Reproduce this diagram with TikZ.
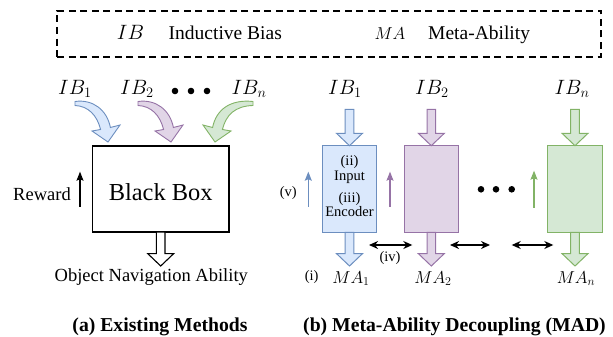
\documentclass[tikz,border=0pt]{standalone}
\usepackage{fontspec}
\setmainfont{Liberation Serif}
\usetikzlibrary{arrows.meta}
\definecolor{bfill}{HTML}{DAE8FC}
\definecolor{bdraw}{HTML}{6C8EBF}
\definecolor{pfill}{HTML}{E1D5E7}
\definecolor{pdraw}{HTML}{9673A6}
\definecolor{gfill}{HTML}{D5E8D4}
\definecolor{gdraw}{HTML}{82B366}
\begin{document}
\begin{tikzpicture}[x=1pt,y=-1pt,
  txt/.style={inner sep=0pt,font=\fontsize{18.5}{22}\selectfont},
  legtxt/.style={inner sep=0pt,anchor=base west,font=\fontsize{19.5}{23}\selectfont},
  small/.style={inner sep=0pt,font=\fontsize{14.5}{17}\selectfont},
  ibl/.style={inner sep=0pt,anchor=base,font=\fontsize{21}{25}\selectfont},
  mal/.style={inner sep=0pt,anchor=base,font=\fontsize{17.5}{21}\selectfont},
  captxt/.style={inner sep=0pt,anchor=base,font=\fontsize{19.7}{24}\selectfont\bfseries},
  module/.style={draw,line width=1.1pt,minimum width=54.4pt,minimum height=86.6pt,inner sep=0pt,outer sep=0pt},
  upar/.style={line width=1.1pt,-{Stealth[length=9pt,width=7pt,inset=1.5pt]}},
  dblar/.style={line width=1.4pt,black,{Stealth[length=9pt,width=8pt]}-{Stealth[length=9pt,width=8pt]}},
  dotn/.style={circle,fill=black,inner sep=0pt,minimum size=6.6pt},
  curv/.style={line width=0.9pt},
  pics/hdown/.style={code={\path[pic actions] (-4.3,-#1) -- (-4.3,-12.4) -- (-13,-12.4) -- (0,0) -- (13,-12.4) -- (4.3,-12.4) -- (4.3,-#1) -- cycle;}},
]
\useasboundingbox (0,0) rectangle (613,337);

% legend
\node[draw,dash pattern=on 7pt off 4.5pt,line width=1.6pt,minimum width=544pt,minimum height=46pt,inner sep=0pt,outer sep=0pt] (legend) at (329,34) {};
\node[ibl] (legib) at (130.5,39.3) {$IB$};
\node[legtxt] (legibt) at (168.5,39.5) {Inductive Bias};
\node[mal] (legma) at (390,39.5) {$MA$};
\node[legtxt] (legmat) at (428,39.5) {Meta-Ability};

% ---------- (a) existing methods
\node[ibl] (lib1) at (75,94.5) {$IB_1$};
\node[ibl] (lib2) at (137,94.5) {$IB_2$};
\node[dotn] (ld1) at (175,91) {};
\node[dotn] (ld2) at (191,91) {};
\node[dotn] (ld3) at (207,91) {};
\node[ibl] (libn) at (249,94.5) {$IB_n$};

\node[draw,line width=1.3pt,minimum width=136.7pt,minimum height=86pt,inner sep=0pt,outer sep=0pt,
      font=\fontsize{24.4}{28}\selectfont,text height=22pt,text depth=0pt] (bb) at (160.7,189) {Black Box};

% curved arrows
\filldraw[curv,fill=bfill,draw=bdraw] (75,101.5) .. controls (93,99) and (107,110) .. (110.4,127.5)
  -- (120,125) -- (108,142) -- (92,131) -- (100.6,129.5) .. controls (97,115) and (88,106) .. (75,105.5) -- cycle;
\filldraw[curv,fill=pfill,draw=pdraw] (138,101.5) .. controls (156,99) and (170,110) .. (173.4,127.5)
  -- (183,125) -- (171,142) -- (155,131) -- (163.6,129.5) .. controls (160,115) and (151,106) .. (138,105.5) -- cycle;
\filldraw[curv,fill=gfill,draw=gdraw] (253,101.5) .. controls (230,99) and (216,110) .. (212.6,127.5)
  -- (203,125) -- (215,142) -- (231,131) -- (222.4,129.5) .. controls (226,115) and (235,106) .. (253,105.5) -- cycle;

\node[txt] (rew) at (42,194.3) {Reward};
\coordinate (rewa) at (80,206.7);
\coordinate (rewb) at (80,171.7);
\draw[line width=1.3pt,-{Stealth[length=9pt,width=7pt,inset=1.5pt]}] (rewa) -- (rewb);

\path ([yshift=-34pt]bb.south) pic[fill=white,draw=black,line width=1.1pt] {hdown=34};
\node[txt,anchor=base] (ona) at (151.3,281.7) {Object Navigation Ability};

\node[captxt] (capa) at (160,331) {(a) Existing Methods};

% ---------- (b) MAD
\node[ibl] (rib1) at (345,94.5) {$IB_1$};
\node[ibl] (rib2) at (432,94.5) {$IB_2$};
\node[ibl] (ribn) at (572,94.5) {$IB_n$};

\node[module,fill=bfill,draw=bdraw] (m1) at (349.5,189) {};
\node[module,fill=pfill,draw=pdraw] (m2) at (431.3,189) {};
\node[module,fill=gfill,draw=gdraw] (mn) at (575,189) {};

\node[small,anchor=base] (t1) at (349.5,165.2) {(ii)};
\node[small,anchor=base] (t2) at (349.5,180.5) {Input};
\node[small,anchor=base] (t3) at (349.5,202.3) {(iii)};
\node[small,anchor=base] (t4) at (349.5,216.8) {Encoder};

\path (m1.north) pic[fill=bfill,draw=bdraw,line width=1pt] {hdown=36.4};
\path (m2.north) pic[fill=pfill,draw=pdraw,line width=1pt] {hdown=36.4};
\path (mn.north) pic[fill=gfill,draw=gdraw,line width=1pt] {hdown=36.4};
\path ([yshift=-33.7pt]m1.south) pic[fill=bfill,draw=bdraw,line width=1pt] {hdown=33.7};
\path ([yshift=-33.7pt]m2.south) pic[fill=pfill,draw=pdraw,line width=1pt] {hdown=33.7};
\path ([yshift=-33.7pt]mn.south) pic[fill=gfill,draw=gdraw,line width=1pt] {hdown=33.7};

\node[mal] (ma1) at (351,283) {$MA_1$};
\node[mal] (ma2) at (433,283) {$MA_2$};
\node[mal] (man) at (576,283) {$MA_n$};

\coordinate (u1a) at (308.3,206.7); \coordinate (u1b) at (308.3,171.7);
\coordinate (u2a) at (390,206.7);   \coordinate (u2b) at (390,171.7);
\coordinate (u3a) at (534,207.7);   \coordinate (u3b) at (534,170.7);
\draw[upar,bdraw] (u1a) -- (u1b);
\draw[upar,pdraw] (u2a) -- (u2b);
\draw[upar,gdraw] (u3a) -- (u3b);
\node[small] (lv) at (288.3,193) {(v)};

\node[dotn] (rd1) at (481,189.3) {};
\node[dotn] (rd2) at (496,189.3) {};
\node[dotn] (rd3) at (511.7,189.3) {};

\coordinate (d1a) at (369,245);   \coordinate (d1b) at (412.3,245);
\coordinate (d2a) at (450,245);   \coordinate (d2b) at (490,245);
\coordinate (d3a) at (511.7,245); \coordinate (d3b) at (553.3,245);
\draw[dblar] (d1a) -- (d1b);
\draw[dblar] (d2a) -- (d2b);
\draw[dblar] (d3a) -- (d3b);
\node[small] (liv) at (390,258.3) {(iv)};
\node[small] (li) at (311.7,277) {(i)};

\node[captxt] (capb) at (454.5,331) {(b) Meta-Ability Decoupling (MAD)};
\end{tikzpicture}
\end{document}
